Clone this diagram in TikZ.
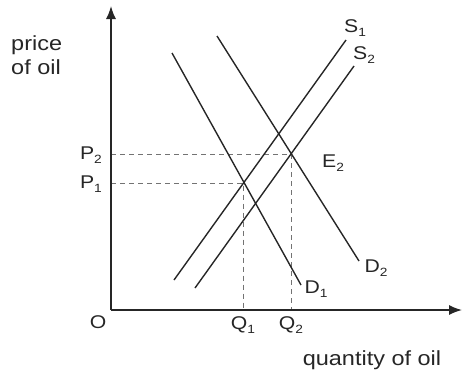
\documentclass[tikz,border=0pt]{standalone}
\usepackage{fontspec}
\setmainfont{Liberation Sans}[FakeStretch=1.15]
\usetikzlibrary{arrows.meta}
\newcommand\lsub[1]{\raisebox{-0.45ex}{\fontsize{12}{12}\selectfont #1}}
\tikzset{
  axis/.style={line width=1.5pt, draw=black!85, -{Latex[length=13bp,width=10bp]}},
  curve/.style={line width=1.4pt, draw=black!85},
  guide/.style={line width=0.9pt, draw=black!55, dash pattern=on 5bp off 4bp},
  lab/.style={inner sep=0pt, font=\fontsize{18.5}{19}\selectfont, text=black!85},
  axlab/.style={inner sep=0pt, font=\fontsize{20.5}{24}\selectfont, text=black!85, align=left}
}
\begin{document}
\begin{tikzpicture}[x=1bp,y=-1bp]
\useasboundingbox (0,0) rectangle (462,376);
% key points
\coordinate (o) at (111,310);
\coordinate (ytop) at (111,6);
\coordinate (xend) at (462,310);
\coordinate (d1a) at (172,53);
\coordinate (d1b) at (301,285);
\coordinate (d2a) at (217,36);
\coordinate (d2b) at (359,261);
\coordinate (s1a) at (174,280);
\coordinate (s1b) at (346,40);
\coordinate (s2a) at (195,288);
\coordinate (s2b) at (354,66);
\coordinate (e1) at (243.5,183);
\coordinate (e2) at (291,154);
\coordinate (p1) at (111,183);
\coordinate (p2) at (111,154);
\coordinate (q1) at (243.5,310);
\coordinate (q2) at (291,310);
% dashed guides
\draw[guide] (p2) -- (e2) -- (q2);
\draw[guide] (p1) -- (e1) -- (q1);
% curves
\draw[curve] (d1a) -- (d1b);
\draw[curve] (d2a) -- (d2b);
\draw[curve] (s1a) -- (s1b);
\draw[curve] (s2a) -- (s2b);
% axes
\draw[axis] (o) -- (ytop);
\draw[axis] (o) -- (xend);
% labels
\node[lab] (ls1) at (355,28) {S\lsub{1}};
\node[lab] (ls2) at (364,55) {S\lsub{2}};
\node[lab] (le2) at (333,163) {E\lsub{2}};
\node[lab] (ld2) at (376,268) {D\lsub{2}};
\node[lab] (ld1) at (316,289) {D\lsub{1}};
\node[lab] (lq1) at (243,325) {Q\lsub{1}};
\node[lab] (lq2) at (291,325) {Q\lsub{2}};
\node[lab] (lo) at (98,322) {O};
\node[lab] (lp2) at (91,155) {P\lsub{2}};
\node[lab] (lp1) at (91,184) {P\lsub{1}};
\node[axlab, anchor=west] (price) at (11,55) {price\\of oil};
\node[axlab] (qty) at (372,360) {quantity of oil};
\end{tikzpicture}
\end{document}
